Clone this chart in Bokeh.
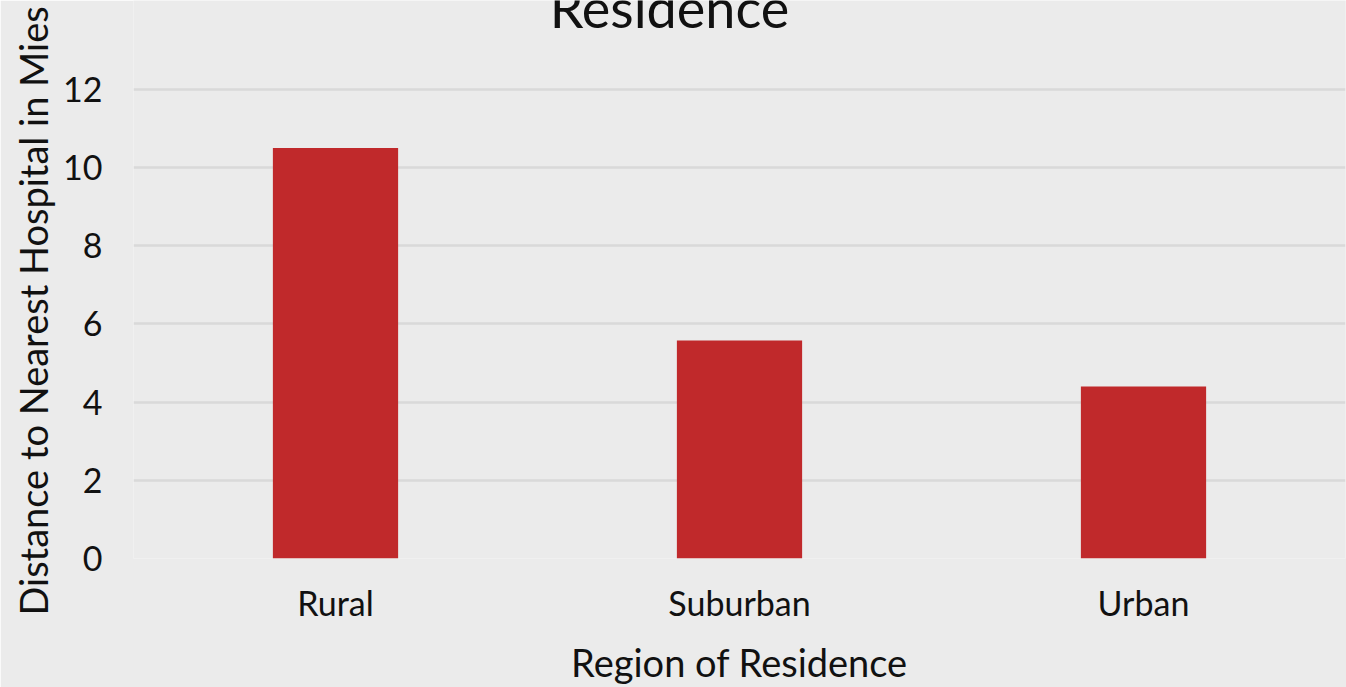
from bokeh.plotting import figure
from bokeh.models import Range1d, Title
from bokeh.core.properties import value
from bokeh.embed import file_html
from bokeh.resources import INLINE

regions = ["Rural", "Suburban", "Urban"]
distances = [10.5, 5.58, 4.4]
y_ticks = [0, 2, 4, 6, 8, 10, 12]
title_text = "Residence"
x_title = "Region of Residence"
y_title = "Distance to Nearest Hospital in Mies"

BG = "#ebebeb"
FONT = "Lato"
TXT = "#111111"

# y range extends above the top gridline so the (cut-off) title can sit inside the frame
p = figure(x_range=regions, y_range=Range1d(0, 14.277),
           frame_width=1212, frame_height=558,
           min_border_left=133, min_border_top=0, min_border_right=1, min_border_bottom=129,
           output_backend="svg", toolbar_location=None,
           background_fill_color=BG, border_fill_color=BG)
p.outline_line_color = None

p.vbar(x=regions, top=distances, width=0.31, fill_color="#c0292b", line_color=None)

p.xgrid.grid_line_color = None
p.ygrid.grid_line_color = "#d9d9d9"
p.ygrid.grid_line_width = 2.5
p.yaxis.ticker = y_ticks

for ax in (p.xaxis[0], p.yaxis[0]):
    ax.axis_line_color = None
    ax.major_tick_line_color = None
    ax.minor_tick_line_color = None
    ax.major_tick_out = 0
    ax.major_tick_in = 0
    ax.major_label_text_font = FONT
    ax.major_label_text_font_size = "34px"
    ax.major_label_text_color = TXT
    ax.axis_label_text_font = FONT
    ax.axis_label_text_font_style = "normal"
    ax.axis_label_text_color = TXT

p.xaxis.axis_label = x_title
p.xaxis.axis_label_text_font_size = "38px"
p.xaxis.major_label_standoff = 23
p.yaxis.major_label_standoff = 31
p.yaxis.axis_label_standoff = 0
p.xaxis.axis_label_standoff = 13

# y-axis title as a side title, starting below the frame bottom like the reference
p.add_layout(Title(text=y_title, align="left", offset=-57, standoff=10,
                   text_font=FONT, text_font_size="38px", text_font_style="normal",
                   text_color=TXT), "left")

# chart title (only its last line is visible, cut at the top edge)
p.text(x=["Suburban"], y=[14.277], y_offset=7, text=[title_text], x_offset=-70,
       text_align="center", text_baseline="alphabetic",
       text_font=value(FONT), text_font_size="54px", text_color=TXT)

open("out.html", "w").write(file_html(p, INLINE))
